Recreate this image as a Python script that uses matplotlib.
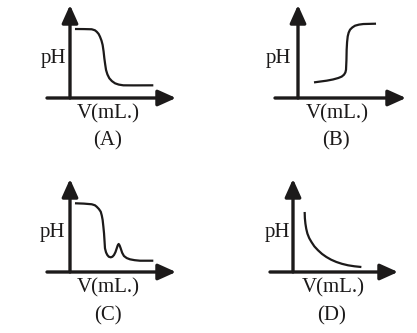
import matplotlib
matplotlib.use("Agg")
import matplotlib.pyplot as plt

# curves (V in mL, pH) - arbitrary units
v_a = [0.47, 1.3, 2.05, 2.35, 2.52, 2.70, 2.83, 2.97, 3.08, 3.17, 3.24, 3.32, 3.40, 3.53, 3.71, 3.95, 4.25, 4.6, 5.03, 6.0, 7.86]
ph_a = [10.39, 10.38, 10.35, 10.2, 9.98, 9.65, 9.23, 8.65, 7.98, 7.0, 5.98, 5.05, 4.22, 3.55, 2.97, 2.55, 2.21, 2.02, 1.91, 1.9, 1.91]

v_b = [1.51, 2.1, 2.71, 3.3, 3.80, 4.12, 4.34, 4.47, 4.53, 4.57, 4.59, 4.63, 4.69, 4.78, 4.91, 5.12, 5.38, 5.75, 6.16, 7.36]
ph_b = [2.35, 2.48, 2.61, 2.79, 3.01, 3.22, 3.51, 3.85, 4.26, 5.7, 7.27, 8.4, 9.28, 9.85, 10.29, 10.62, 10.89, 11.05, 11.14, 11.19]

v_c = [0.47, 1.3, 2.05, 2.35, 2.52, 2.72, 2.90, 3.00, 3.08, 3.15, 3.21, 3.26, 3.30, 3.40, 3.52, 3.66, 3.84, 4.0, 4.15, 4.29, 4.41, 4.50, 4.59, 4.68, 4.78, 4.92, 5.09, 5.35, 5.66, 6.1, 6.60, 7.86]
ph_c = [10.35, 10.3, 10.20, 10.05, 9.83, 9.5, 9.08, 8.5, 7.83, 6.8, 5.83, 4.6, 3.57, 2.95, 2.56, 2.3, 2.21, 2.3, 2.56, 3.0, 3.57, 4.0, 4.22, 4.0, 3.57, 2.9, 2.41, 2.1, 1.91, 1.78, 1.70, 1.70]

v_d = [1.10, 1.12, 1.17, 1.25, 1.36, 1.53, 1.74, 2.02, 2.36, 2.74, 3.15, 3.6, 4.09, 4.62, 5.19, 5.8, 6.45]
ph_d = [9.04, 8.1, 7.29, 6.5, 5.78, 5.1, 4.52, 3.85, 3.27, 2.72, 2.26, 1.85, 1.51, 1.23, 1.01, 0.86, 0.75]

ink = "#1c1a1a"
W, H = 417, 333
fig = plt.figure(figsize=(W / 100, H / 100), dpi=100)
plt.rcParams["font.family"] = ["Liberation Serif", "DejaVu Serif"]

sx, sy = 10.6, 6.64  # pixels per unit


def panel(ox, oy, tipx, tipy, v, ph):
    left = ox - 23
    bottom = oy + 4
    ax = fig.add_axes([left / W, 1 - bottom / H, (tipx - left) / W, (bottom - tipy) / H])
    ax.set_xlim((left - ox) / sx, (tipx - ox) / sx)
    ax.set_ylim((oy - bottom) / sy, (oy - tipy) / sy)
    ax.axis("off")
    xmin, xmax = ax.get_xlim()
    ymin, ymax = ax.get_ylim()
    arrow = dict(arrowstyle="-|>,head_length=0.6,head_width=0.27", lw=2.4,
                 color=ink, shrinkA=0, shrinkB=0, mutation_scale=18)
    ax.annotate("", xy=(xmax, 0), xytext=(xmin, 0), arrowprops=arrow, annotation_clip=False)
    ax.annotate("", xy=(0, ymax), xytext=(0, 0), arrowprops=arrow, annotation_clip=False)
    ax.plot(v, ph, color=ink, lw=1.6, solid_capstyle="butt", clip_on=False)
    return ax


panel(70, 98, 176, 5, v_a, ph_a)
panel(298, 98, 406, 5, v_b, ph_b)
panel(70, 272, 176, 179, v_c, ph_c)
panel(293, 272, 398, 179, v_d, ph_d)


def label(x, y, s):
    fig.text(x / W, 1 - y / H, s, ha="center", va="center", fontsize=15, color=ink)


label(53, 58, "pH")
label(108, 114, "V(mL.)")
label(108, 141, "(A)")
label(278, 58, "pH")
label(337, 114, "V(mL.)")
label(336, 141, "(B)")
label(52, 232, "pH")
label(108, 288, "V(mL.)")
label(108, 316, "(C)")
label(277, 233, "pH")
label(333, 288, "V(mL.)")
label(332, 316, "(D)")

fig.savefig("out.png", dpi=100)
